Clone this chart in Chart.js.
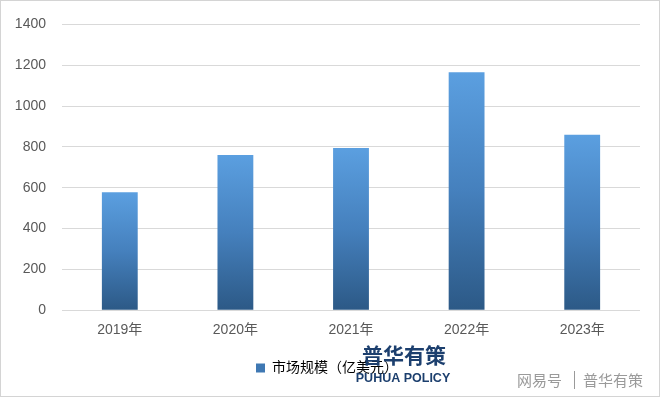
<!DOCTYPE html>
<html lang="zh">
<head>
<meta charset="UTF-8">
<title>市场规模</title>
<script src="https://cdn.jsdelivr.net/npm/chart.js"></script>
<style>
  html, body { margin: 0; padding: 0; background: #fff; }
  #wrap { width: 660px; height: 397px; position: relative; }
</style>
</head>
<body>
<div id="wrap"><canvas id="chart"></canvas></div>
<script>
// 数据
var years = ["2019年", "2020年", "2021年", "2022年", "2023年"];
var marketSize = [578, 760, 794, 1165, 859];
var seriesName = "市场规模（亿美元）";
var yMax = 1400;
var yStep = 200;

var font = "'Liberation Sans', 'Noto Sans CJK SC', sans-serif";

// 每根柱子自上而下的渐变
function barGradient(context) {
    var chart = context.chart;
    var y = chart.scales.y;
    if (!y || context.dataIndex === undefined) return "#4a89c8";
    var v = context.dataset.data[context.dataIndex];
    var top = y.getPixelForValue(v);
    var bottom = y.getPixelForValue(0);
    if (!isFinite(top) || !isFinite(bottom)) return "#4a89c8";
    var g = chart.ctx.createLinearGradient(0, top, 0, bottom);
    g.addColorStop(0, "#5b9fe0");
    g.addColorStop(0.5, "#4580bd");
    g.addColorStop(1, "#2c5986");
    return g;
}

// 外框和水印
var decor = {
    id: "decor",
    beforeDraw: function (chart) {
        var c = chart.ctx;
        c.save();
        c.fillStyle = "#fff";
        c.fillRect(0, 0, chart.width, chart.height);
        c.restore();
    },
    afterDraw: function (chart) {
        var c = chart.ctx;
        c.save();
        c.strokeStyle = "#d4d4d4";
        c.lineWidth = 1;
        c.strokeRect(0.5, 0.5, chart.width - 1, chart.height - 1);

        c.fillStyle = "#1c3f6e";
        c.textAlign = "center";
        c.textBaseline = "middle";
        c.font = "bold 21px 'Noto Sans CJK SC', sans-serif";
        c.fillText("普华有策", 404, 355);
        c.font = "bold 12.5px 'Liberation Sans Narrow', 'Liberation Sans', sans-serif";
        c.fillText("PUHUA POLICY", 403, 379);

        c.textAlign = "left";
        c.font = "15px 'Noto Sans CJK SC', sans-serif";
        c.fillStyle = "#9a9a9a";
        c.fillText("网易号", 517, 380);
        c.fillText("普华有策", 583, 380);
        c.fillRect(574, 371, 1, 18);
        c.restore();
    }
};

var ctx = document.getElementById("chart").getContext("2d");
var chart = new Chart(ctx, {
    type: "bar",
    data: {
        labels: years,
        datasets: [{
            label: seriesName,
            data: marketSize,
            backgroundColor: barGradient,
            borderWidth: 0,
            categoryPercentage: 1.0,
            barPercentage: 0.31
        }]
    },
    options: {
        responsive: true,
        maintainAspectRatio: false,
        animation: false,
        layout: { padding: { left: 14, right: 20, top: 5, bottom: 12 } },
        plugins: {
            tooltip: { enabled: false },
            legend: {
                position: "bottom",
                labels: {
                    boxWidth: 9,
                    boxHeight: 9,
                    padding: 10,
                    color: "#595959",
                    font: { family: font, size: 14 },
                    generateLabels: function (ch) {
                        return [{
                            text: seriesName,
                            fillStyle: "#3f78b3",
                            strokeStyle: "#3f78b3",
                            lineWidth: 0,
                            datasetIndex: 0
                        }];
                    }
                }
            }
        },
        scales: {
            x: {
                grid: { display: false, drawTicks: false },
                border: { display: false },
                ticks: { color: "#595959", font: { family: font, size: 14 }, padding: 12 }
            },
            y: {
                min: 0,
                max: yMax,
                afterFit: function (s) { s.width = 48; },
                grid: { color: "#d9d9d9", drawTicks: false },
                border: { display: false },
                ticks: {
                    stepSize: yStep,
                    color: "#595959",
                    font: { family: font, size: 14 },
                    padding: 16,
                    callback: function (v) { return String(v); }
                }
            }
        }
    },
    plugins: [decor]
});
</script>
</body>
</html>
